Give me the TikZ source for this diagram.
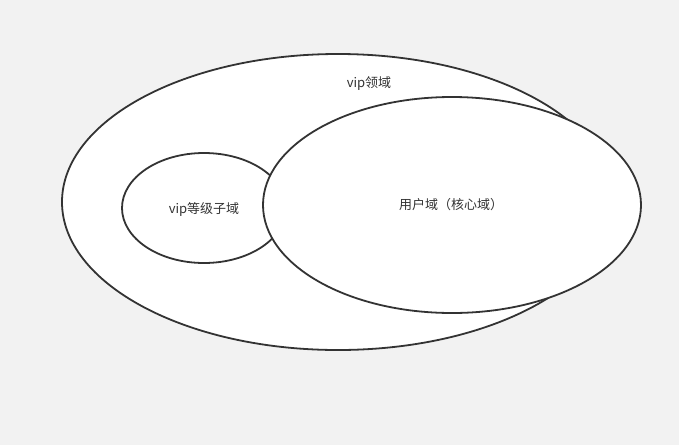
\documentclass[tikz,border=0pt]{standalone}
\usepackage{fontspec}
\setmainfont{Noto Sans CJK SC}
\definecolor{bg}{HTML}{F2F2F2}
\definecolor{ln}{HTML}{333333}
\tikzset{
  dom/.style={draw=ln, fill=white, line width=1.8pt},
  lbl/.style={text=ln, font=\fontsize{13}{15}\selectfont, inner sep=0pt}
}
\begin{document}
\begin{tikzpicture}[x=1pt,y=-1pt]
\fill[bg] (0,0) rectangle (679,445);
\useasboundingbox (0,0) rectangle (679,445);
\draw[dom] (338,202) ellipse [x radius=276, y radius=148];
\node[lbl] (vip) at (369,84) {vip领域};
\draw[dom] (204,208) ellipse [x radius=82, y radius=55];
\node[lbl] (sub) at (204,209) {vip等级子域};
\draw[dom] (452,205) ellipse [x radius=189, y radius=108];
\node[lbl] (user) at (451,205) {用户域（核心域）};
\end{tikzpicture}
\end{document}
